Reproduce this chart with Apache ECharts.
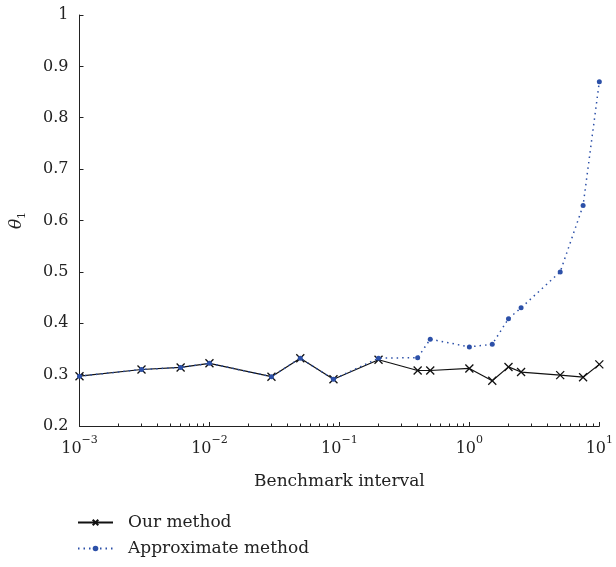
<!DOCTYPE html>
<html>
<head>
<meta charset="utf-8">
<script src="https://cdn.jsdelivr.net/npm/echarts@6/dist/echarts.min.js"></script>
<style>
html,body{margin:0;padding:0;background:#fff;}
#chart{width:616px;height:567px;}
</style>
</head>
<body>
<div id="chart"></div>
<script>
// Data
const xValues = [0.001, 0.003, 0.006, 0.01, 0.03, 0.05, 0.09, 0.2, 0.4, 0.5, 1, 1.5, 2, 2.5, 5, 7.5, 10];
const ourMethod = [0.297, 0.310, 0.314, 0.322, 0.296, 0.332, 0.291, 0.329, 0.308, 0.308, 0.312, 0.288, 0.315, 0.305, 0.299, 0.295, 0.320];
const approxMethod = [0.297, 0.310, 0.314, 0.322, 0.296, 0.332, 0.291, 0.332, 0.333, 0.369, 0.354, 0.359, 0.409, 0.430, 0.500, 0.629, 0.870];
const seriesNames = ['Our method', 'Approximate method'];
const xTickValues = [0.001, 0.01, 0.1, 1, 10];
const xTickExponents = ['−3', '−2', '−1', '0', '1'];
const yTickLabels = ['0.2', '0.3', '0.4', '0.5', '0.6', '0.7', '0.8', '0.9', '1'];
const xAxisName = 'Benchmark interval';

const minorTicks = [];
for (let d = 0; d < xTickValues.length - 1; d++) {
  for (let k = 2; k <= 9; k++) minorTicks.push(+(xTickValues[d] * k).toPrecision(6));
}

const FONT = 'DejaVu Serif';
const chart = echarts.init(document.getElementById('chart'), null, {renderer: 'canvas'});
const pair = a => xValues.map((x, i) => [x, a[i]]);

chart.setOption({
  animation: false,
  backgroundColor: '#fff',
  textStyle: {fontFamily: FONT},
  grid: {left: 79, right: 14, top: 15, bottom: 141, containLabel: false},
  xAxis: [{
    type: 'log', logBase: 10, min: 0.001, max: 10,
    name: xAxisName, nameLocation: 'middle', nameGap: 47,
    nameTextStyle: {fontFamily: FONT, fontSize: 17, color: '#222'},
    axisLine: {show: true, lineStyle: {color: '#222', width: 1}},
    axisTick: {show: true, inside: true, length: 4, customValues: xTickValues, lineStyle: {color: '#222'}},
    axisLabel: {
      show: true, margin: 9, customValues: xTickValues,
      formatter: function (v) {
        const i = xTickValues.findIndex(t => Math.abs(Math.log10(t) - Math.log10(v)) < 1e-6);
        return '{b|10}{s|' + xTickExponents[i] + '}';
      },
      rich: {
        b: {fontFamily: FONT, fontSize: 16, color: '#222', lineHeight: 22, verticalAlign: 'bottom'},
        s: {fontFamily: FONT, fontSize: 11, color: '#222', lineHeight: 22, verticalAlign: 'top'}
      }
    },
    splitLine: {show: false}
  }, {
    type: 'log', logBase: 10, min: 0.001, max: 10, gridIndex: 0, position: 'bottom',
    axisLine: {show: false},
    axisTick: {show: true, inside: true, length: 2.5, customValues: minorTicks, lineStyle: {color: '#222'}},
    axisLabel: {show: false},
    splitLine: {show: false}
  }],
  yAxis: {
    type: 'value', min: 0.2, max: 1, interval: 0.1,
    name: '{i|θ}{s|1}', nameLocation: 'middle', nameGap: 52, nameRotate: 90,
    nameTextStyle: {
      rich: {
        i: {fontFamily: FONT, fontStyle: 'italic', fontSize: 17, color: '#222', lineHeight: 22},
        s: {fontFamily: FONT, fontSize: 11, color: '#222', lineHeight: 22, verticalAlign: 'bottom'}
      }
    },
    axisLine: {show: true, lineStyle: {color: '#222', width: 1}},
    axisTick: {show: true, inside: true, length: 4, lineStyle: {color: '#222'}},
    axisLabel: {
      margin: 11, fontFamily: FONT, fontSize: 16, color: '#222',
      formatter: function (v) { return yTickLabels[Math.round((v - 0.2) * 10)]; }
    },
    splitLine: {show: false}
  },
  legend: {
    orient: 'vertical', left: 77, top: 514, height: 53, padding: 0,
    itemWidth: 35, itemHeight: 7, itemGap: 9,
    textStyle: {fontFamily: FONT, fontSize: 17, color: '#222', padding: [0, 0, 0, 10]},
    data: seriesNames
  },
  series: [{
    name: seriesNames[0], type: 'line', xAxisIndex: 0,
    data: pair(ourMethod),
    symbol: 'path://M0,0L10,10M10,0L0,10', symbolSize: 8,
    lineStyle: {color: '#111', width: 1.2},
    itemStyle: {color: 'rgba(0,0,0,0)', borderColor: '#111', borderWidth: 1.3},
    z: 2
  }, {
    name: seriesNames[1], type: 'line', xAxisIndex: 0,
    data: pair(approxMethod),
    symbol: 'circle', symbolSize: 5,
    lineStyle: {color: '#2c50a8', width: 1.5, type: [1.5, 4]},
    itemStyle: {color: '#2c50a8', borderWidth: 0},
    z: 3
  }]
});
</script>
</body>
</html>
